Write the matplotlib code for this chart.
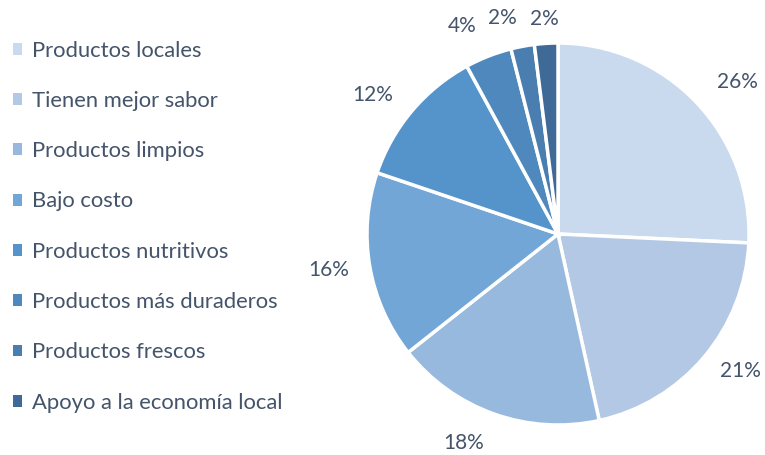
import numpy as np
import matplotlib
matplotlib.use("Agg")
import matplotlib.pyplot as plt
from matplotlib.patches import Patch

labels = ["Productos locales", "Tienen mejor sabor", "Productos limpios", "Bajo costo",
          "Productos nutritivos", "Productos más duraderos", "Productos frescos",
          "Apoyo a la economía local"]
values = [26, 21, 18, 16, 12, 4, 2, 2]
colors = ["#C9D9EE", "#B3C8E4", "#98B9DE", "#72A6D7", "#5594CB", "#4E88BD", "#4A7DB0", "#3F6A97"]
# distance of each percent label from the centre, in radii
label_dist = [1.15, 1.11, 1.16, 1.11, 1.13, 1.17, 1.15, 1.13]
txt = "#44546A"

plt.rcParams["font.family"] = ["Lato", "DejaVu Sans"]

fig = plt.figure(figsize=(7.65, 4.55), dpi=100)
cx, cy, r = 558, 234, 191
ax = fig.add_axes([(cx - r) / 765, (455 - cy - r) / 455, 2 * r / 765, 2 * r / 455])

wedges, _ = ax.pie(values, colors=colors, startangle=90, counterclock=False, radius=1,
                   wedgeprops=dict(edgecolor="white", linewidth=2.5))
for w, v, d in zip(wedges, values, label_dist):
    ang = np.deg2rad((w.theta1 + w.theta2) / 2)
    x, y = np.cos(ang), np.sin(ang)
    ha = "left" if x > 0.3 else ("right" if x < -0.1 else "center")
    ax.text(d * x, d * y, "%d%%" % v, ha=ha, va="center", color=txt, fontsize=15)
ax.set_xlim(-1, 1)
ax.set_ylim(-1, 1)

handles = [Patch(facecolor=c, edgecolor="none") for c in colors]
leg = fig.legend(handles, labels, loc="upper left", bbox_to_anchor=(0.005, 0.93),
                 frameon=False, fontsize=15.8, handlelength=0.45, handleheight=0.45,
                 handletextpad=0.45, labelspacing=1.38, borderaxespad=0.0)
for t in leg.get_texts():
    t.set_color(txt)

fig.savefig("out.png", dpi=100)
